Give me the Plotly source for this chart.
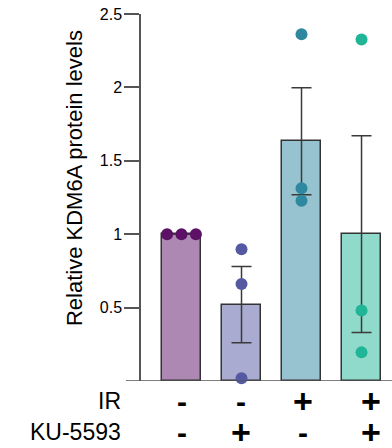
import plotly.graph_objects as go

groups = ["A", "B", "C", "D"]
means = [1.0, 0.52, 1.633, 1.0]
sems = [0.0, 0.26, 0.365, 0.67]
points = [
    [1.0, 1.0, 1.0],
    [0.897, 0.661, 0.018],
    [2.362, 1.313, 1.228],
    [2.327, 0.481, 0.195],
]
point_colors = ["#5C1166", "#5459A2", "#2E88A0", "#1FB596"]
ir_labels = ["-", "-", "+", "+"]
ku_labels = ["-", "+", "-", "+"]
y_ticks = [0.5, 1, 1.5, 2, 2.5]
y_ticktext = ["0.5", "1", "1.5", "2", "2.5"]
y_title = "Relative KDM6A protein levels"
row_titles = ["IR", "KU-5593"]

FONT = "Arial, Liberation Sans, sans-serif"


def rgba(hexc, a):
    h = hexc.lstrip("#")
    r, g, b = int(h[0:2], 16), int(h[2:4], 16), int(h[4:6], 16)
    return f"rgba({r},{g},{b},{a})"


fig = go.Figure()
xs = list(range(len(groups)))
fig.add_trace(go.Bar(
    x=xs, y=means, width=0.65,
    marker=dict(color=[rgba(c, 0.5) for c in point_colors],
                line=dict(color="#333333", width=1.5)),
    error_y=dict(type="data", array=sems, visible=True, color="#3a3a3a",
                 thickness=1.5, width=10),
    showlegend=False, hoverinfo="skip",
))

for i, vals in enumerate(points):
    same = all(abs(v - vals[0]) < 1e-9 for v in vals)
    n = len(vals)
    if same:
        offs = [(k - (n - 1) / 2) * 0.24 for k in range(n)]
    else:
        offs = [0.0] * n
    fig.add_trace(go.Scatter(
        x=[i + o for o in offs], y=vals, mode="markers",
        marker=dict(size=12, color=point_colors[i]),
        showlegend=False, hoverinfo="skip", cliponaxis=False,
    ))

# baseline
fig.add_shape(type="line", xref="paper", yref="y", x0=-0.06, x1=1, y0=0, y1=0,
              line=dict(color="#555555", width=1.5))

fig.add_annotation(text=y_title, xref="paper", yref="paper", x=-0.267, y=0.553,
                   xanchor="center", yanchor="middle",
                   textangle=-90, showarrow=False,
                   font=dict(family=FONT, size=22, color="black"))

row_y = [-0.0545, -0.139]
label_shift = [0, -1, 1, 9]
for r, labels in enumerate([ir_labels, ku_labels]):
    fig.add_annotation(text=row_titles[r], xref="paper", yref="paper", x=-0.07,
                       y=row_y[r], xanchor="right", yanchor="middle", showarrow=False,
                       font=dict(family=FONT, size=23, color="black"))
    for i, lab in enumerate(labels):
        size = 34 if lab == "+" else 30
        fig.add_annotation(text=f"<b>{lab}</b>", xref="x", yref="paper", x=i,
                           y=row_y[r], xanchor="center", yanchor="middle",
                           xshift=label_shift[i], height=26,
                           showarrow=False,
                           font=dict(family=FONT, size=size, color="black"))

fig.update_layout(
    width=392, height=448,
    margin=dict(l=141, r=0, t=14, b=67),
    plot_bgcolor="white", paper_bgcolor="white",
    bargap=0,
    xaxis=dict(range=[-0.675, 3.508], showticklabels=False, ticks="",
               showgrid=False, zeroline=False, showline=False),
    yaxis=dict(range=[0, 2.5], tickvals=y_ticks, ticktext=y_ticktext,
               ticks="outside", ticklen=15, tickwidth=1.5, tickcolor="#555555",
               showline=True, linecolor="#555555", linewidth=1.5,
               showgrid=False, zeroline=False, ticklabelstandoff=-1,
               tickfont=dict(family=FONT, size=16, color="black")),
)

fig.write_html("out.html", config={"displayModeBar": False},
               post_script="document.body.style.margin='0';")
